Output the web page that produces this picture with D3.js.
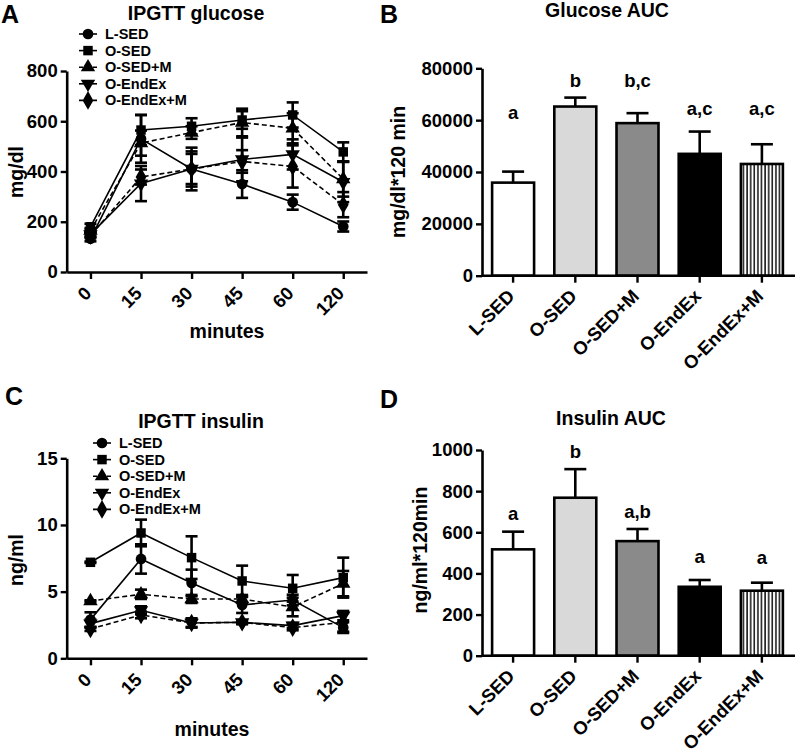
<!DOCTYPE html>
<html><head><meta charset="utf-8">
<script src="https://cdn.jsdelivr.net/npm/d3@7"></script>
<style>
body{margin:0;background:#fff;}
svg text{font-family:"Liberation Sans",Arial,sans-serif;font-weight:bold;fill:#000;}
</style></head><body>
<svg id="c" width="796" height="751"></svg>
<script>
// ---------- data ----------
const timepoints = ["0","15","30","45","60","120"];
const groups = ["L-SED","O-SED","O-SED+M","O-EndEx","O-EndEx+M"];

const glucoseLSED   = [132, 530, 410, 350, 278, 181];
const glucoseOSED   = [180, 565, 580, 605, 625, 478];
const glucoseOSEDM  = [165, 513, 555, 595, 572, 370];
const glucoseOEnd   = [150, 352, 410, 448, 468, 358];
const glucoseOEndM  = [145, 378, 410, 440, 420, 268];
const glucoseSemLSED  = [10, 95, 60, 55, 30, 20];
const glucoseSemOSED  = [12, 60, 32, 35, 50, 38];
const glucoseSemOSEDM = [10, 50, 25, 55, 60, 70];
const glucoseSemOEnd  = [10, 70, 70, 87, 60, 80];
const glucoseSemOEndM = [10, 30, 85, 45, 84, 50];

const insulinLSED   = [2.9, 7.45, 5.65, 4.0, 4.37, 2.3];
const insulinOSED   = [7.2, 9.4, 7.55, 5.8, 5.25, 6.05];
const insulinOSEDM  = [4.3, 4.8, 4.45, 4.45, 3.85, 5.6];
const insulinOEnd   = [2.6, 3.6, 2.65, 2.7, 2.45, 3.2];
const insulinOEndM  = [2.2, 3.25, 2.65, 2.7, 2.3, 2.7];
const insulinSemLSED  = [0.55, 1.1, 1.0, 0.6, 0.4, 0.4];
const insulinSemOSED  = [0.05, 1.0, 1.6, 1.15, 1.0, 1.5];
const insulinSemOSEDM = [0.05, 0.35, 0.3, 0.3, 0.7, 0.95];
const insulinSemOEnd  = [0.3, 0.3, 0.35, 0.15, 0.2, 0.35];
const insulinSemOEndM = [0.15, 0.25, 0.3, 0.1, 0.2, 0.7];

const glucoseAUC     = [35900, 65250, 58850, 47000, 43100];
const glucoseAUCsem  = [4250, 3450, 3850, 8600, 7600];
const glucoseLetters = ["a","b","b,c","a,c","a,c"];
const glucoseLetterAt = [60300, 72700, 72700, 61900, 61900];

const insulinAUC     = [517, 768, 557, 335, 316];
const insulinAUCsem  = [86, 139, 59, 33, 39];
const insulinLetters = ["a","b","a,b","a","a"];
const insulinLetterAt = [660, 963, 668, 452, 444];

const glucoseTicks = [0, 200, 400, 600, 800];
const insulinTicks = [0, 5, 10, 15];
const glucoseAUCTicks = [0, 20000, 40000, 60000, 80000];
const insulinAUCTicks = [0, 200, 400, 600, 800, 1000];

// ---------- drawing ----------
const svg = d3.select("#c");
const defs = svg.append("defs");
const pat = defs.append("pattern").attr("id","stripes").attr("patternUnits","userSpaceOnUse")
  .attr("width",3.6).attr("height",10);
pat.append("rect").attr("width",3.6).attr("height",10).attr("fill","#fff");
pat.append("rect").attr("x",1.2).attr("width",1.4).attr("height",10).attr("fill","#000");

const symTypes = [d3.symbolCircle, d3.symbolSquare, d3.symbolTriangle, d3.symbolTriangle, d3.symbolDiamond];
const symSizes = [90, 90, 90, 90, 100];
const symRot = [0, 0, 0, 180, 0];
const dashed = [false, false, true, false, true];
const barFills = ["#ffffff", "#d9d9d9", "#8a8a8a", "#000000", "url(#stripes)"];

const FS_TICK = 18.5, FS_TITLE = 19.5, FS_LEG = 14.5, FS_LET = 25;

function styleAxis(ax, fs){
  ax.attr("font-family", null).attr("font-size", null);
  ax.selectAll("path.domain").attr("stroke","#000").attr("stroke-width",2.6);
  ax.selectAll(".tick line").attr("stroke","#000").attr("stroke-width",2.4);
  ax.selectAll(".tick text").style("font-size", fs + "px");
}

function linePanel(o){
  const g = svg.append("g");
  const x = d3.scalePoint().domain(timepoints).range([o.x0, o.x1]).padding(0.47);
  const y = d3.scaleLinear().domain([0, o.ymax]).range([o.yb, o.yt]);

  const ya = g.append("g").attr("transform", `translate(${o.x0},0)`)
    .call(d3.axisLeft(y).tickValues(o.ticks).tickSize(6).tickPadding(3).tickSizeOuter(0));
  styleAxis(ya, FS_TICK);
  const xa = g.append("g").attr("transform", `translate(0,${o.yb})`)
    .call(d3.axisBottom(x).tickSize(7).tickSizeOuter(0));
  styleAxis(xa, FS_TICK);
  xa.selectAll(".tick text").attr("x",0).attr("y",0).attr("dy","0.35em")
    .attr("text-anchor","end").attr("transform","translate(-3,18) rotate(-45)");

  const line = d3.line().x((d,i)=>x(timepoints[i])).y(d=>y(d));
  o.means.forEach((m,k)=>{
    g.append("path").attr("d", line(m)).attr("fill","none").attr("stroke","#000")
      .attr("stroke-width",1.6).attr("stroke-dasharray", dashed[k] ? "5,3" : null);
  });
  o.means.forEach((m,k)=>{
    m.forEach((v,i)=>{
      const s = o.sems[k][i], cx = x(timepoints[i]);
      const eg = g.append("g").attr("stroke","#000").attr("stroke-width",2.6);
      eg.append("line").attr("x1",cx).attr("x2",cx).attr("y1",y(v+s)).attr("y2",y(v-s));
      eg.append("line").attr("x1",cx-6).attr("x2",cx+6).attr("y1",y(v+s)).attr("y2",y(v+s));
      eg.append("line").attr("x1",cx-6).attr("x2",cx+6).attr("y1",y(v-s)).attr("y2",y(v-s));
    });
  });
  o.means.forEach((m,k)=>{
    m.forEach((v,i)=>{
      g.append("path").attr("d", d3.symbol().type(symTypes[k]).size(symSizes[k])())
        .attr("transform", `translate(${x(timepoints[i])},${y(v)}) rotate(${symRot[k]})`)
        .attr("fill","#000");
    });
  });

  // legend
  groups.forEach((name,k)=>{
    const ly = o.legY + k*16.6;
    g.append("line").attr("x1",o.legX-9).attr("x2",o.legX+9).attr("y1",ly).attr("y2",ly)
      .attr("stroke","#000").attr("stroke-width",1.6).attr("stroke-dasharray", dashed[k] ? "4,3" : null);
    g.append("path").attr("d", d3.symbol().type(symTypes[k]).size(symSizes[k])())
      .attr("transform", `translate(${o.legX},${ly}) rotate(${symRot[k]})`).attr("fill","#000");
    g.append("text").attr("x",o.legX+17).attr("y",ly).attr("dy","0.35em")
      .style("font-size",FS_LEG+"px").text(name);
  });

  g.append("text").attr("x",o.titleX).attr("y",o.titleY).attr("text-anchor","middle")
    .style("font-size",FS_TITLE+"px").text(o.title);
  g.append("text").attr("transform",`translate(${o.ylabX},${o.ylabY}) rotate(-90)`)
    .attr("text-anchor","middle").style("font-size",FS_TITLE+"px").text(o.ylab);
  g.append("text").attr("x",o.xlabX).attr("y",o.xlabY).attr("text-anchor","middle")
    .style("font-size",FS_TITLE+"px").text("minutes");
  g.append("text").attr("x",o.letX).attr("y",o.letY).style("font-size",FS_LET+"px").text(o.letter);
}

function barPanel(o){
  const g = svg.append("g");
  const x = d3.scaleBand().domain(groups).range([482, 793]).paddingInner(0.325).paddingOuter(0.1625);
  const y = d3.scaleLinear().domain([0, o.ymax]).range([o.yb, o.yt]);

  groups.forEach((name,i)=>{
    const cx = x(name) + x.bandwidth()/2;
    const top = y(o.vals[i] + o.sems[i]);
    g.append("line").attr("x1",cx).attr("x2",cx).attr("y1",y(o.vals[i])).attr("y2",top)
      .attr("stroke","#000").attr("stroke-width",2.6);
    g.append("line").attr("x1",cx-11).attr("x2",cx+11).attr("y1",top).attr("y2",top)
      .attr("stroke","#000").attr("stroke-width",2.6);
  });
  g.selectAll("rect.bar").data(o.vals).enter().append("rect")
    .attr("x",(d,i)=>x(groups[i])).attr("width",x.bandwidth())
    .attr("y",d=>y(d)).attr("height",d=>o.yb - y(d))
    .attr("fill",(d,i)=>barFills[i]).attr("stroke","#000").attr("stroke-width",2.6);

  const ya = g.append("g").attr("transform", `translate(482,0)`)
    .call(d3.axisLeft(y).tickValues(o.ticks).tickSize(6).tickPadding(3).tickSizeOuter(0).tickFormat(d3.format("d")));
  styleAxis(ya, FS_TICK);
  const xa = g.append("g").attr("transform", `translate(0,${o.yb})`)
    .call(d3.axisBottom(x).tickSize(7).tickSizeOuter(0));
  xa.select("path.domain").remove();
  g.append("line").attr("x1",482).attr("x2",795).attr("y1",o.yb).attr("y2",o.yb)
    .attr("stroke","#000").attr("stroke-width",2.6);
  styleAxis(xa, FS_TICK);
  xa.selectAll(".tick text").attr("x",0).attr("y",0).attr("dy","0.35em")
    .attr("text-anchor","end").attr("transform","translate(-2,17) rotate(-45)");

  groups.forEach((name,i)=>{
    g.append("text").attr("x", x(name) + x.bandwidth()/2).attr("y", y(o.letterAt[i]))
      .attr("text-anchor","middle").style("font-size",FS_TICK+"px").text(o.letters[i]);
  });

  g.append("text").attr("x",o.titleX).attr("y",o.titleY).attr("text-anchor","middle")
    .style("font-size",FS_TITLE+"px").text(o.title);
  g.append("text").attr("transform",`translate(${o.ylabX},${o.ylabY}) rotate(-90)`)
    .attr("text-anchor","middle").style("font-size",FS_TITLE+"px").text(o.ylab);
  g.append("text").attr("x",o.letX).attr("y",o.letY).style("font-size",FS_LET+"px").text(o.letter);
}

linePanel({
  x0:66.7, x1:367, yb:272, yt:71, ymax:800, ticks:glucoseTicks,
  means:[glucoseLSED, glucoseOSED, glucoseOSEDM, glucoseOEnd, glucoseOEndM],
  sems:[glucoseSemLSED, glucoseSemOSED, glucoseSemOSEDM, glucoseSemOEnd, glucoseSemOEndM],
  legX:88, legY:34,
  title:"IPGTT glucose", titleX:196, titleY:20,
  ylab:"mg/dl", ylabX:23, ylabY:172,
  xlabX:227, xlabY:338, letter:"A", letX:1, letY:23
});
linePanel({
  x0:66.7, x1:367, yb:658.3, yt:458.3, ymax:15, ticks:insulinTicks,
  means:[insulinLSED, insulinOSED, insulinOSEDM, insulinOEnd, insulinOEndM],
  sems:[insulinSemLSED, insulinSemOSED, insulinSemOSEDM, insulinSemOEnd, insulinSemOEndM],
  legX:102, legY:443,
  title:"IPGTT insulin", titleX:201, titleY:428,
  ylab:"ng/ml", ylabX:23, ylabY:560,
  xlabX:212, xlabY:736, letter:"C", letX:5, letY:405
});
barPanel({
  yb:275.7, yt:68.3, ymax:80000, ticks:glucoseAUCTicks,
  vals:glucoseAUC, sems:glucoseAUCsem, letters:glucoseLetters, letterAt:glucoseLetterAt,
  title:"Glucose AUC", titleX:607, titleY:17,
  ylab:"mg/dl*120 min", ylabX:405, ylabY:172, letter:"B", letX:380, letY:23
});
barPanel({
  yb:655.7, yt:450, ymax:1000, ticks:insulinAUCTicks,
  vals:insulinAUC, sems:insulinAUCsem, letters:insulinLetters, letterAt:insulinLetterAt,
  title:"Insulin AUC", titleX:611, titleY:425,
  ylab:"ng/ml*120min", ylabX:427, ylabY:550, letter:"D", letX:380, letY:408
});
</script>
</body></html>
